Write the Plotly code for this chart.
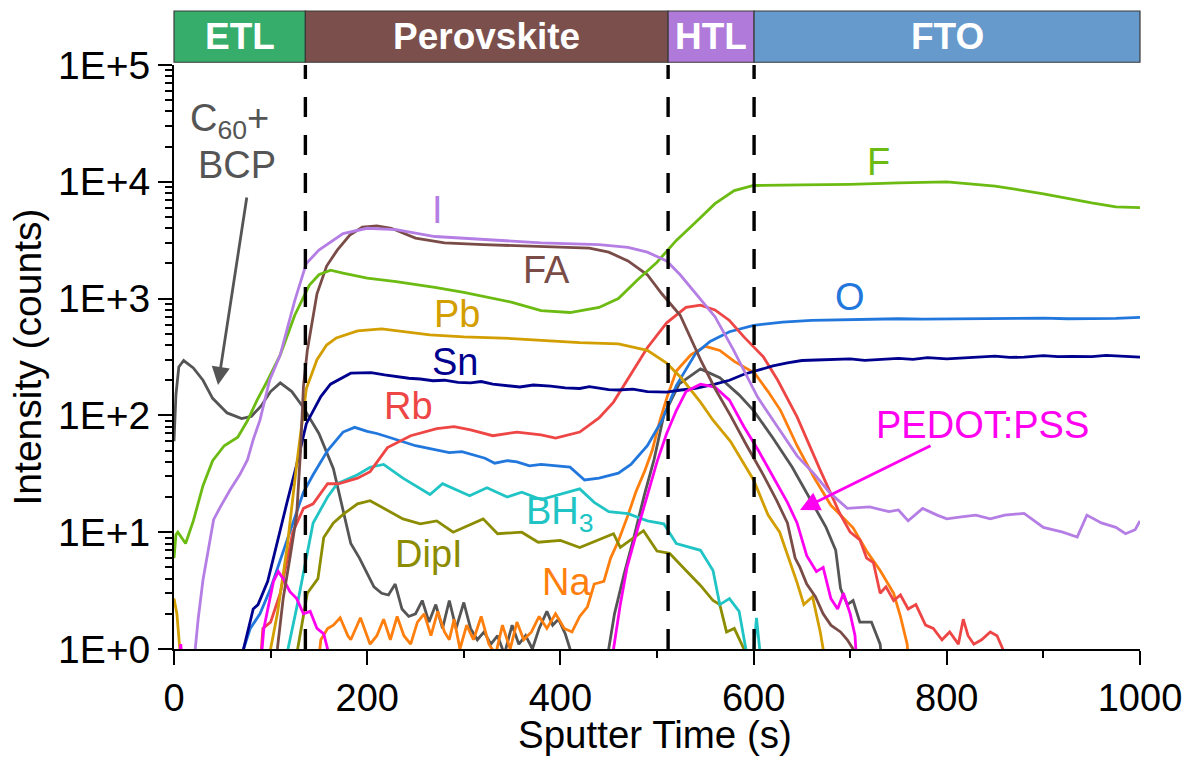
import plotly.graph_objects as go

# ---------------- data ----------------
F_x = [0, 2, 4, 12, 20, 30, 40, 52, 66, 76, 86, 97, 110, 125, 140, 150, 162, 175, 200, 230, 270, 300, 350, 380, 410, 440, 460, 480, 500, 520, 540, 560, 580, 600, 650, 700, 750, 800, 850, 900, 950, 975, 1000]
F_y = [6, 9.5, 10, 8, 12.5, 25, 41, 55, 65, 90, 135, 200, 330, 720, 1300, 1600, 1750, 1650, 1500, 1400, 1250, 1130, 930, 790, 760, 840, 1000, 1450, 2050, 3150, 4500, 6500, 8400, 9300, 9400, 9500, 9800, 10000, 9200, 7900, 6600, 6100, 6000]

I_x = [22, 25, 30, 41, 48, 58, 68, 76, 82, 89, 99, 110, 125, 137, 150, 175, 200, 230, 270, 320, 380, 440, 470, 490, 510, 524, 545, 560, 579, 604, 627, 645, 662, 679, 697, 720, 740, 750, 760, 775, 790, 800, 815, 830, 845, 860, 880, 900, 920, 935, 945, 960, 975, 985, 995, 1000]
I_y = [1.0, 1.8, 3.9, 12.8, 16.5, 23, 31, 41.5, 62, 91, 200, 330, 960, 2000, 2600, 3600, 4000, 3900, 3400, 3200, 3000, 2900, 2750, 2500, 2100, 1600, 1000, 700, 366, 144, 75, 45, 32, 21.7, 16, 16.5, 15, 15.5, 12.5, 16, 14, 13, 13.5, 14, 13, 14, 14.5, 11, 10, 9.1, 14, 12, 11, 9.7, 10.5, 12.5]

FA_x = [107, 113, 120, 127, 131, 134, 138, 148, 158, 169, 182, 195, 210, 225, 250, 280, 320, 380, 430, 450, 470, 490, 505, 524, 545, 560, 576, 593, 610, 624, 635, 643, 648, 655, 664, 672, 680, 690, 697, 703, 706]
FA_y = [1.0, 2.7, 6, 14, 50, 176, 360, 1100, 1900, 2600, 3500, 4100, 4200, 4000, 3300, 3000, 2900, 2800, 2700, 2500, 2100, 1600, 1100, 720, 300, 170, 100, 55, 31, 18.6, 12, 6, 5, 3.6, 2.8, 2, 1.6, 1.4, 1.2, 1.0, 0.5]

Pb_x = [0, 3, 6, 9, 95, 100, 107, 117, 127, 137, 148, 158, 168, 190, 215, 245, 265, 300, 350, 420, 460, 490, 510, 525, 545, 558, 576, 600, 615, 627, 640, 645, 652, 661, 669, 672, 676]
Pb_y = [2.7, 2.0, 1.0, 0.5, 0.5, 1.0, 2, 7.3, 38, 170, 300, 400, 460, 530, 550, 510, 490, 470, 455, 420, 410, 360, 280, 210, 130, 91, 60, 28, 14, 10, 5, 3.7, 2.4, 2.8, 1.4, 1.0, 0.5]

Sn_x = [70, 72, 82, 87, 97, 107, 117, 127, 137, 152, 162, 183, 204, 218, 230, 243, 255, 268, 280, 294, 307, 318, 330, 344, 358, 372, 390, 405, 420, 430, 440, 450, 460, 475, 490, 510, 525, 540, 560, 575, 590, 605, 620, 635, 650, 665, 680, 700, 715, 730, 750, 765, 780, 800, 815, 830, 850, 865, 880, 900, 915, 930, 950, 965, 980, 1000]
Sn_y = [0.5, 1.0, 2.2, 2.4, 3.8, 8.4, 18, 38, 85, 145, 185, 230, 232, 222, 215, 208, 205, 198, 200, 192, 190, 195, 185, 180, 175, 182, 178, 172, 170, 176, 172, 166, 165, 168, 160, 158, 165, 170, 185, 200, 225, 245, 265, 282, 295, 298, 300, 305, 296, 300, 308, 302, 312, 305, 310, 318, 322, 314, 315, 325, 318, 320, 318, 326, 322, 315]

Rb_x = [88, 92, 100, 110, 123, 134, 144, 159, 170, 190, 203, 221, 245, 272, 290, 307, 330, 355, 380, 395, 420, 440, 455, 472, 490, 510, 530, 545, 560, 575, 590, 610, 625, 645, 660, 669, 689, 700, 710, 717, 724, 731, 737, 745, 752, 760, 768, 778, 786, 795, 803, 812, 817, 822, 828, 836, 845, 852, 858, 862]
Rb_y = [0.5, 1.5, 1.7, 3, 10, 16, 17.5, 26, 26, 29, 33, 53, 67, 77, 80, 75, 67, 72, 68, 64, 72, 95, 130, 220, 380, 620, 840, 880, 800, 650, 470, 318, 200, 97, 50, 34, 14.6, 10, 8.6, 6, 5.5, 3.0, 3.4, 2.6, 2.9, 2.2, 2.4, 1.6, 1.5, 1.2, 1.4, 1.1, 1.8, 1.3, 1.1, 1.2, 1.4, 1.3, 1.0, 0.5]

O_x = [70, 72, 79, 89, 100, 117, 134, 144, 159, 175, 187, 200, 210, 220, 235, 250, 265, 285, 298, 310, 322, 332, 345, 355, 368, 380, 395, 410, 425, 440, 460, 473, 490, 505, 520, 540, 555, 575, 600, 630, 660, 700, 725, 750, 775, 800, 825, 850, 875, 900, 925, 950, 975, 1000]
O_y = [0.5, 1, 1.5, 2, 3.3, 8.4, 22, 31, 50, 72, 79, 73, 70, 66, 60, 55, 52, 48, 49, 46, 43, 39, 41, 40, 37, 38, 37, 36, 28, 29, 32, 38, 55, 90, 180, 340, 430, 520, 590, 630, 650, 660, 665, 672, 668, 670, 676, 670, 674, 680, 672, 670, 678, 690]

BH3_x = [115, 118, 127, 134, 144, 159, 169, 190, 203, 217, 237, 265, 278, 306, 324, 345, 360, 380, 400, 420, 435, 450, 470, 490, 507, 520, 545, 558, 565, 575, 585, 592, 598, 603, 610]
BH3_y = [0.5, 1, 2.25, 4.4, 12, 20, 26, 31, 36, 38, 29, 21, 26, 20.5, 24, 20, 22, 19, 21, 23.5, 18, 15, 14.4, 12.5, 11.8, 8, 7, 4.7, 2.4, 2.7, 2.1, 1.0, 0.6, 1.85, 0.5]

DipI_x = [125, 128, 138, 149, 155, 165, 176, 190, 203, 217, 237, 255, 272, 289, 320, 335, 360, 377, 400, 420, 440, 455, 462, 486, 500, 513, 530, 545, 558, 565, 572, 580, 590, 598]
DipI_y = [0.5, 1, 3, 4, 9, 12, 14.4, 17.5, 18.6, 16, 13, 11.8, 12.5, 10, 13, 9.7, 10, 8.2, 8.5, 7.4, 8.6, 9.7, 7.4, 10.3, 6.9, 6.6, 4.7, 3.5, 2.6, 2.4, 1.4, 1.5, 1.0, 0.5]

Na_x = [148, 152, 159, 165, 172, 180, 183, 193, 203, 210, 217, 224, 231, 238, 245, 252, 259, 266, 273, 280, 285, 290, 296, 303, 310, 318, 326, 333, 340, 348, 355, 362, 370, 378, 386, 395, 404, 412, 420, 428, 435, 445, 452, 460, 470, 478, 487, 495, 503, 510, 520, 535, 550, 565, 580, 601, 615, 628, 645, 662, 680, 703, 717, 731, 745, 752, 759, 762]
Na_y = [0.6, 1.2, 1.5, 1.6, 1.85, 1.3, 1.2, 1.85, 1.1, 1.3, 1.8, 1.2, 1.9, 1.3, 1.1, 1.7, 2.0, 1.3, 2.1, 1.4, 1.2, 1.8, 1.0, 1.6, 1.2, 1.9, 1.1, 0.9, 1.6, 1.0, 1.7, 1.2, 1.4, 1.9, 1.5, 2.0, 1.5, 1.4, 1.9, 2.3, 3.6, 3.8, 6, 8.4, 14, 22, 33, 50, 90, 140, 240, 330, 390, 360, 290, 230, 160, 110, 55, 30, 17, 10.9, 6.9, 4.7, 3.0, 1.9, 1.1, 0.5]

C60_x = [0, 2, 5, 10, 20, 30, 40, 55, 70, 80, 90, 100, 110, 122, 133, 150, 165, 175, 183, 192, 200, 207, 215, 222, 229, 236, 243, 250, 257, 264, 271, 278, 285, 292, 300, 307, 314, 321, 328, 335, 342, 350, 357, 364, 371, 378, 386, 392, 398, 405, 410, 415, 445, 450, 456, 466, 476, 487, 497, 507, 523, 545, 565, 585, 600, 620, 640, 660, 675, 685, 690, 697, 703, 710, 722, 731, 735]
C60_y = [60, 150, 260, 295, 255, 200, 140, 105, 94, 98, 120, 160, 190, 160, 120, 70, 35, 15, 8, 6, 4.5, 3.4, 3.0, 2.9, 3.6, 2.2, 1.9, 2.0, 2.6, 1.7, 2.4, 1.5, 2.6, 1.5, 2.5, 1.5, 1.2, 1.4, 1.1, 1.3, 0.9, 1.6, 1.1, 1.3, 1.0, 1.5, 2.1, 1.6, 1.8, 1.35, 1.0, 0.5, 0.5, 1.0, 2, 4.4, 9, 21, 42, 100, 186, 250, 210, 150, 110, 64, 36, 18, 11, 7, 3.3, 2.4, 2.6, 1.7, 1.7, 1.1, 0.5]

PEDOT_x = [3, 7, 10, 88, 93, 97, 103, 108, 113, 120, 127, 134, 141, 148, 155, 159, 163, 452, 455, 462, 469, 479, 490, 500, 510, 520, 530, 545, 560, 575, 590, 605, 620, 635, 645, 655, 665, 672, 680, 687, 693, 700, 705, 708]
PEDOT_y = [0.5, 1.1, 0.5, 0.5, 1.5, 2.2, 3.8, 4.6, 4.0, 3.1, 2.7, 2.0, 2.1, 1.5, 1.35, 1.0, 0.5, 0.5, 1.0, 2.4, 5, 10, 21, 40, 70, 110, 160, 185, 175, 135, 80, 50, 30, 18, 12, 6.3, 4.6, 5, 2.7, 2.2, 3, 2.0, 1.3, 0.5]

series = [
    ("C60+BCP", C60_x, C60_y, "#555555"),
    ("Na", Na_x, Na_y, "#ff7f0e"),
    ("DipI", DipI_x, DipI_y, "#8c8c00"),
    ("BH3", BH3_x, BH3_y, "#20c4c4"),
    ("O", O_x, O_y, "#2277dd"),
    ("Rb", Rb_x, Rb_y, "#ee4545"),
    ("Sn", Sn_x, Sn_y, "#00008f"),
    ("Pb", Pb_x, Pb_y, "#d39e00"),
    ("PEDOT:PSS", PEDOT_x, PEDOT_y, "#ff00f0"),
    ("FA", FA_x, FA_y, "#7a4c48"),
    ("F", F_x, F_y, "#6cbb12"),
    ("I", I_x, I_y, "#b47ee4"),
]

layers = ["ETL", "Perovskite", "HTL", "FTO"]
layer_start = [0, 136, 511.5, 600.5]
layer_end = [136, 511.5, 600.5, 1000]
layer_colors = ["#37ad6b", "#7b4f4b", "#b07ada", "#6699cc"]
boundaries = [136, 511.5, 600.5]

y_tickvals = [1, 10, 100, 1000, 10000, 100000]
y_ticktext = ["1E+0", "1E+1", "1E+2", "1E+3", "1E+4", "1E+5"]

# ---------------- figure ----------------
FONT = "Liberation Sans, Arial, sans-serif"
LBL = 38
fig = go.Figure()
for name, xs, ys, col in series:
    fig.add_trace(go.Scatter(x=xs, y=ys, mode="lines", name=name,
                             line=dict(color=col, width=2.8)))

# dashed layer boundaries
for b in boundaries:
    fig.add_shape(type="line", xref="x", yref="paper", x0=b, x1=b, y0=0, y1=1,
                  line=dict(color="black", width=3.4, dash="20px,18px"))

# top band
XMAX = 1000.0
for name, s, e, c in zip(layers, layer_start, layer_end, layer_colors):
    fig.add_shape(type="rect", xref="paper", yref="paper", x0=s / XMAX, x1=e / XMAX,
                  y0=1.0047, y1=1.0925, fillcolor=c, line=dict(color="#3a3a3a", width=1.2))
    fig.add_annotation(xref="paper", yref="paper", x=(s + e) / 2 / XMAX, y=1.049,
                       xanchor="center", yanchor="middle",
                       text="<b>%s</b>" % name, showarrow=False,
                       font=dict(family=FONT, size=37, color="white"))

def px2paper(px, py):
    return (px - 174) / 966.0, (649 - py) / 584.0

labels = [
    ("C<sub>60</sub>+", 229, 121, "#555555"),
    ("BCP", 237, 165, "#555555"),
    ("I", 437, 210, "#b47ee4"),
    ("FA", 546, 270, "#7a4c48"),
    ("Pb", 457, 314, "#d39e00"),
    ("Sn", 455, 362, "#00008f"),
    ("Rb", 408, 406, "#ee4545"),
    ("O", 850, 297, "#2277dd"),
    ("F", 878, 162, "#6cbb12"),
    ("BH<sub>3</sub>", 560, 514, "#20c4c4"),
    ("DipI", 429, 554, "#8c8c00"),
    ("Na", 566, 582, "#ff7f0e"),
    ("PEDOT:PSS", 982, 425, "#ff00f0"),
]
for t, px, py, c in labels:
    xp, yp = px2paper(px, py)
    fig.add_annotation(xref="paper", yref="paper", x=xp, y=yp, text=t, showarrow=False,
                       xanchor="center", yanchor="middle",
                       font=dict(family=FONT, size=LBL, color=c))

# x-axis title placed as in the reference
tx, ty = px2paper(655, 734)
fig.add_annotation(xref="paper", yref="paper", x=tx, y=ty, text="Sputter Time (s)",
                   showarrow=False, xanchor="center", yanchor="middle",
                   font=dict(family=FONT, size=38.5, color="black"))

# arrows
hx, hy = px2paper(218, 385)
fig.add_annotation(xref="paper", yref="paper", x=hx, y=hy, text="", showarrow=True,
                   ax=29, ay=-189, arrowhead=2, arrowsize=1.3, arrowwidth=2.8,
                   arrowcolor="#555555", standoff=0)
hx, hy = px2paper(800, 510)
fig.add_annotation(xref="paper", yref="paper", x=hx, y=hy, text="", showarrow=True,
                   ax=132, ay=-65, arrowhead=2, arrowsize=1.3, arrowwidth=3,
                   arrowcolor="#ff00f0", standoff=0)

minor_y = [m * 10 ** d for d in range(5) for m in range(2, 10)]

fig.update_layout(
    width=1194, height=760,
    margin=dict(l=174, r=54, t=65, b=111),
    plot_bgcolor="white", paper_bgcolor="white",
    showlegend=False,
    font=dict(family=FONT, color="black"),
    xaxis=dict(range=[0, 1000], showline=True, linecolor="black", linewidth=2,
               ticks="outside", ticklen=14, tickwidth=2, tickcolor="black",
               tick0=0, dtick=200, showgrid=False, zeroline=False,
               minor=dict(ticks="outside", ticklen=7, tickwidth=2, tickcolor="black", dtick=100, showgrid=False),
               tickfont=dict(family=FONT, size=38, color="black")),
    yaxis=dict(type="log", range=[0, 5], showline=True, linecolor="black", linewidth=2,
               ticks="outside", ticklen=14, tickwidth=2, tickcolor="black",
               tickmode="array", tickvals=y_tickvals, ticktext=y_ticktext,
               showgrid=False, zeroline=False,
               minor=dict(ticks="outside", ticklen=7, tickwidth=2, tickcolor="black",
                          tickmode="array", tickvals=minor_y, showgrid=False),
               tickfont=dict(family=FONT, size=39, color="black"),
               title=dict(text="Intensity (counts)", font=dict(family=FONT, size=39, color="black"), standoff=4)),
)

fig.write_html("out.html")
